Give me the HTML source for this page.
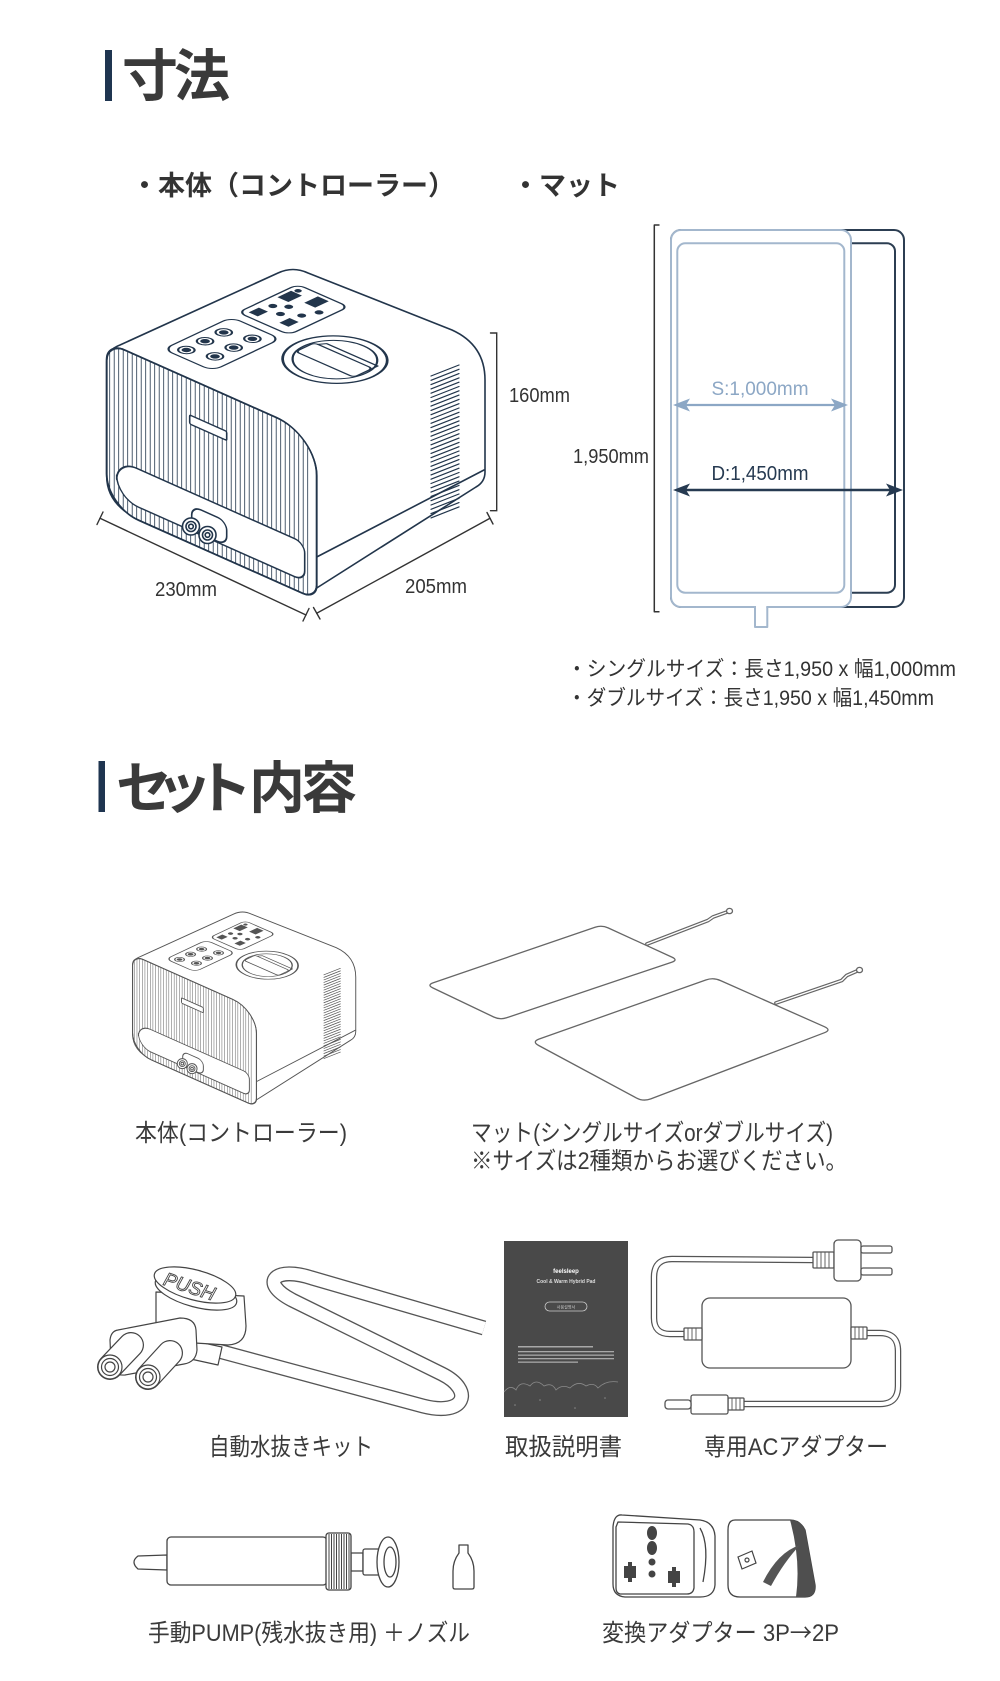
<!DOCTYPE html>
<html><head><meta charset="utf-8">
<style>
html,body{margin:0;padding:0;background:#fff;}
svg{display:block;}
text{font-family:"Liberation Sans","Noto Sans CJK JP","Noto Sans CJK KR",sans-serif;}
</style></head><body>
<svg width="1000" height="1681" viewBox="0 0 1000 1681" xmlns="http://www.w3.org/2000/svg" xmlns:xlink="http://www.w3.org/1999/xlink">
<defs>
  <clipPath id="ffclip"><path d="M18,0 H170 A40,40 0 0 1 210,40 V150 A14,14 0 0 1 196,164 H32 A32,32 0 0 1 0,132 V18 A18,18 0 0 1 18,0 Z"/></clipPath>
  <g id="ctrl" fill="none" stroke="currentColor" stroke-width="1.6" stroke-linejoin="round" stroke-linecap="round">
    <path fill="#fff" d="M106.7,476 V362 Q106.7,350 120,345 L278,273 Q293,266 308,273 L452,330 Q485,345 485,380 V472 Q485,482 476,487 L312,591 L140,520 Q106.7,505 106.7,476 Z"/>
    <path d="M316.7,557 L484,470"/>
    <path stroke-width="1.2" d="M431,376 l28,-11 m-28,15.3 l28,-11 m-28,15.3 l28,-11 m-28,15.3 l28,-11 m-28,15.3 l28,-11 m-28,15.3 l28,-11 m-28,15.3 l28,-11 m-28,15.3 l28,-11 m-28,15.3 l28,-11 m-28,15.3 l28,-11 m-28,15.3 l28,-11 m-28,15.3 l28,-11 m-28,15.3 l28,-11 m-28,15.3 l28,-11 m-28,15.3 l28,-11 m-28,15.3 l28,-11 m-28,15.3 l28,-11 m-28,15.3 l28,-11 m-28,15.3 l28,-11 m-28,15.3 l28,-11 m-28,15.3 l28,-11 m-28,15.3 l28,-11 m-28,15.3 l28,-11 m-28,15.3 l28,-11 m-28,15.3 l28,-11 m-28,15.3 l28,-11 m-28,15.3 l28,-11 m-28,15.3 l28,-11 m-28,15.3 l28,-11 m-28,15.3 l28,-11 m-28,15.3 l28,-11 m-28,15.3 l28,-11 m-28,15.3 l28,-11 m-28,15.3 l28,-11"/>
    <g transform="matrix(1.70,-0.80,1.82,0.80,123,350)" stroke-width="0.9">
      <rect x="12" y="11" width="40" height="27" rx="5" fill="#fff"/>
      <rect x="57" y="10" width="35" height="28" rx="4" fill="#fff"/>
      <circle cx="18" cy="18" r="3.3"/><circle cx="18" cy="18" r="1.5" fill="currentColor"/>
      <circle cx="29" cy="18" r="3.3"/><circle cx="29" cy="18" r="1.5" fill="currentColor"/>
      <circle cx="40" cy="18" r="3.3"/><circle cx="40" cy="18" r="1.5" fill="currentColor"/>
      <circle cx="22" cy="30" r="3.3"/><circle cx="22" cy="30" r="1.5" fill="currentColor"/>
      <circle cx="33" cy="30" r="3.3"/><circle cx="33" cy="30" r="1.5" fill="currentColor"/>
      <circle cx="44" cy="30" r="3.3"/><circle cx="44" cy="30" r="1.5" fill="currentColor"/>
      <g fill="currentColor" stroke="none">
        <rect x="60" y="13" width="6" height="5"/><rect x="78" y="12" width="8" height="6"/>
        <rect x="82" y="23" width="8" height="6"/><rect x="62" y="28" width="6" height="5"/>
        <circle cx="71" cy="16" r="1.8"/><circle cx="75" cy="21" r="1.8"/><circle cx="68" cy="23" r="1.8"/>
        <circle cx="73" cy="30" r="1.8"/><circle cx="80" cy="33" r="1.8"/><circle cx="88" cy="14" r="1.5"/>
      </g>
      <circle cx="54" cy="66" r="21" fill="#fff" stroke-width="1.1"/>
      <circle cx="54" cy="66" r="17"/>
      <rect x="48" y="50" width="11" height="32" rx="2" fill="#fff"/>
      <path d="M59,52 l3,2 v28 l-3,0"/>
    </g>
    <g transform="translate(106.7,342) skewY(24)">
      <path fill="#fff" d="M18,0 H170 A40,40 0 0 1 210,40 V150 A14,14 0 0 1 196,164 H32 A32,32 0 0 1 0,132 V18 A18,18 0 0 1 18,0 Z"/>
      <g clip-path="url(#ffclip)">
        <path stroke-width="0.8" d="M3,0 v164 m4.5,-164 v164 m4.5,-164 v164 m4.5,-164 v164 m4.5,-164 v164 m4.5,-164 v164 m4.5,-164 v164 m4.5,-164 v164 m4.5,-164 v164 m4.5,-164 v164 m4.5,-164 v164 m4.5,-164 v164 m4.5,-164 v164 m4.5,-164 v164 m4.5,-164 v164 m4.5,-164 v164 m4.5,-164 v164 m4.5,-164 v164 m4.5,-164 v164 m4.5,-164 v164 m4.5,-164 v164 m4.5,-164 v164 m4.5,-164 v164 m4.5,-164 v164 m4.5,-164 v164 m4.5,-164 v164 m4.5,-164 v164 m4.5,-164 v164 m4.5,-164 v164 m4.5,-164 v164 m4.5,-164 v164 m4.5,-164 v164 m4.5,-164 v164 m4.5,-164 v164 m4.5,-164 v164 m4.5,-164 v164 m4.5,-164 v164 m4.5,-164 v164 m4.5,-164 v164 m4.5,-164 v164 m4.5,-164 v164 m4.5,-164 v164 m4.5,-164 v164 m4.5,-164 v164 m4.5,-164 v164"/>
      </g>
      <path stroke-width="1.9" d="M18,0 H170 A40,40 0 0 1 210,40 V150 A14,14 0 0 1 196,164 H32 A32,32 0 0 1 0,132 V18 A18,18 0 0 1 18,0 Z"/>
      <path fill="#fff" d="M30,113 H188 A10,10 0 0 1 198,123 V141 A10,10 0 0 1 188,151 H32 A22,22 0 0 1 10,129 V133 A20,20 0 0 1 30,113 Z"/>
      <rect x="83" y="36" width="37" height="9" rx="1.5" fill="#fff"/>
      <rect x="85" y="126" width="35" height="24" rx="9" fill="#fff"/>
    </g>
    <circle cx="191" cy="526.5" r="8.5" fill="#fff"/><circle cx="191" cy="526.5" r="5"/><circle cx="191" cy="526.5" r="2.3"/>
    <circle cx="207.5" cy="535" r="8.5" fill="#fff"/><circle cx="207.5" cy="535" r="5"/><circle cx="207.5" cy="535" r="2.3"/>
  </g>
</defs>

<!-- ========== Heading 1 ========== -->
<rect x="105" y="50" width="7" height="51" fill="#1f3550"/>
<text x="122" y="96" font-size="56" font-weight="700" fill="#3a3a3a" textLength="108">寸法</text>

<text x="131" y="195" font-size="27" font-weight="700" fill="#333">・本体（コントローラー）</text>
<text x="512" y="195" font-size="27" font-weight="700" fill="#333">・マット</text>

<use xlink:href="#ctrl" href="#ctrl" color="#22354b"/>

<g stroke="#333" stroke-width="1.4" fill="none" stroke-linecap="round">
  <path d="M490.5,333 H496.7 V510.7 H490.5"/>
  <path d="M100,518.3 L306,615"/>
  <path d="M97,524.5 L103,512"/>
  <path d="M303,621 L309,608.5"/>
  <path d="M316.7,613.3 L490,518.3"/>
  <path d="M313.5,607.5 L320,619"/>
  <path d="M487,512.5 L493,524"/>
</g>
<text x="509" y="402" font-size="20" fill="#333" textLength="61" lengthAdjust="spacingAndGlyphs">160mm</text>
<text x="155" y="596" font-size="20" fill="#333" textLength="62" lengthAdjust="spacingAndGlyphs">230mm</text>
<text x="405" y="593" font-size="20" fill="#333" textLength="62" lengthAdjust="spacingAndGlyphs">205mm</text>

<!-- mat diagram -->
<g fill="none" stroke-linejoin="round">
  <path d="M659.5,225 H654.3 V611.7 H659.5" stroke="#333" stroke-width="1.5"/>
  <rect x="671" y="230" width="233" height="377" rx="10" stroke="#2c3e52" stroke-width="2"/>
  <rect x="677.3" y="243.3" width="217.7" height="349.4" rx="8" stroke="#2c3e52" stroke-width="2"/>
  <rect x="671" y="230" width="180" height="377" rx="10" fill="#fff" stroke="#a3b7cd" stroke-width="2"/>
  <rect x="677.3" y="243.3" width="167" height="349.4" rx="8" stroke="#a3b7cd" stroke-width="2"/>
  <rect x="756" y="603" width="10.3" height="6" fill="#fff"/>
  <path d="M755,607 V627 H767.3 V607" stroke="#a3b7cd" stroke-width="2"/>
  <line x1="682" y1="405" x2="840" y2="405" stroke="#8ca7c5" stroke-width="2.2"/>
  <line x1="682" y1="490" x2="894" y2="490" stroke="#263a51" stroke-width="2.4"/>
</g>
<path d="M673,405 L690,398.5 L686,405 L690,411.5 Z" fill="#8ca7c5"/>
<path d="M848,405 L831,398.5 L835,405 L831,411.5 Z" fill="#8ca7c5"/>
<path d="M673,490 L690,483.5 L686,490 L690,496.5 Z" fill="#263a51"/>
<path d="M903,490 L886,483.5 L890,490 L886,496.5 Z" fill="#263a51"/>
<text x="711.5" y="395" font-size="19" fill="#8ca7c5" textLength="97" lengthAdjust="spacingAndGlyphs">S:1,000mm</text>
<text x="711.5" y="480" font-size="20" fill="#263a51" textLength="97" lengthAdjust="spacingAndGlyphs">D:1,450mm</text>
<text x="573" y="463" font-size="20" fill="#333" textLength="76" lengthAdjust="spacingAndGlyphs">1,950mm</text>

<text x="567" y="676" font-size="21" fill="#333" textLength="389" lengthAdjust="spacingAndGlyphs">・シングルサイズ：長さ1,950 x 幅1,000mm</text>
<text x="567" y="705" font-size="21" fill="#333" textLength="367" lengthAdjust="spacingAndGlyphs">・ダブルサイズ：長さ1,950 x 幅1,450mm</text>

<!-- ========== Heading 2 ========== -->
<rect x="98.5" y="761" width="6.5" height="51" fill="#1f3550"/>
<text x="116" y="808" font-size="56" font-weight="700" fill="#3a3a3a" textLength="136">セット</text>
<text x="249" y="808" font-size="56" font-weight="700" fill="#3a3a3a" textLength="108">内容</text>

<use xlink:href="#ctrl" href="#ctrl" color="#555" transform="translate(69.6,753) scale(0.59)"/>

<!-- mats -->
<g fill="#fff" stroke="#666" stroke-width="1.3" stroke-linejoin="round">
  <path d="M433.3,982.7 L595.1,927.3 Q601.7,925 608.1,927.9 L671.9,957.1 Q678.3,960 671.7,962.2 L506.6,1017.8 Q500,1020 493.7,1017 L433,988 Q426.7,985 433.3,982.7 Z"/>
  <path d="M539.2,1039 L705.8,980 Q713.3,977.3 720.6,980.6 L824.4,1026.7 Q831.7,1030 824.2,1032.8 L650.8,1098.9 Q643.3,1101.7 636.3,1097.9 L538.7,1045.5 Q531.7,1041.7 539.2,1039 Z"/>
</g>
<g fill="none" stroke-linecap="round" stroke-linejoin="round">
  <path d="M647,944 L708,920.5 L713,917 L727,912" stroke="#666" stroke-width="3.8"/>
  <path d="M647,944 L708,920.5 L713,917 L727,912" stroke="#fff" stroke-width="1.4"/>
  <path d="M776,1003 L841.7,980.5 L846.7,975.5 L857,971" stroke="#666" stroke-width="3.8"/>
  <path d="M776,1003 L841.7,980.5 L846.7,975.5 L857,971" stroke="#fff" stroke-width="1.4"/>
</g>
<ellipse cx="729.5" cy="911" rx="3" ry="2.6" fill="#fff" stroke="#666" stroke-width="1.3"/>
<ellipse cx="859.5" cy="970" rx="3" ry="2.6" fill="#fff" stroke="#666" stroke-width="1.3"/>

<text x="135" y="1141" font-size="24" fill="#3a3a3a" textLength="212" lengthAdjust="spacingAndGlyphs">本体(コントローラー)</text>
<text x="471" y="1141" font-size="24" fill="#3a3a3a" textLength="362" lengthAdjust="spacingAndGlyphs">マット(シングルサイズorダブルサイズ)</text>
<text x="471" y="1169" font-size="24" fill="#3a3a3a" textLength="376" lengthAdjust="spacingAndGlyphs">※サイズは2種類からお選びください。</text>

<!-- drain kit -->
<g fill="none" stroke-linejoin="round">
  <path d="M215,1350 L423,1406 C466,1417 474,1390 442,1374 L292,1300 C258,1282 276,1266 312,1278 L484,1328" stroke="#555" stroke-width="15"/>
  <path d="M215,1350 L423,1406 C466,1417 474,1390 442,1374 L292,1300 C258,1282 276,1266 312,1278 L484,1328" stroke="#fff" stroke-width="12.4"/>
</g>
<g stroke="#444" stroke-width="1.2" fill="#fff" stroke-linejoin="round">
  <path d="M190,1340 L222,1347 L218,1365 L186,1358 Z"/>
  <path d="M156,1292 L156,1325 Q158,1340 178,1342 L228,1345 Q246,1344 246,1326 L244,1296 Z"/>
  <path d="M118,1330 L180,1318 Q195,1318 196,1330 L197,1350 Q196,1362 184,1364 L125,1375 Q112,1376 111,1364 L110,1340 Q111,1331 118,1330 Z"/>
  <line x1="110" y1="1367" x2="131" y2="1345" stroke-width="26" stroke-linecap="round"/>
  <line x1="110" y1="1367" x2="131" y2="1345" stroke="#fff" stroke-width="23.6" stroke-linecap="round"/>
  <circle cx="110" cy="1367" r="12"/><circle cx="110" cy="1367" r="8.5"/><circle cx="110" cy="1367" r="5"/>
  <line x1="148" y1="1377" x2="170" y2="1353" stroke-width="26" stroke-linecap="round"/>
  <line x1="148" y1="1377" x2="170" y2="1353" stroke="#fff" stroke-width="23.6" stroke-linecap="round"/>
  <circle cx="148" cy="1377" r="12"/><circle cx="148" cy="1377" r="8.5"/><circle cx="148" cy="1377" r="5"/>
  <ellipse cx="196" cy="1292" rx="42" ry="15" transform="rotate(15 196 1292)"/>
  <ellipse cx="195" cy="1285" rx="42" ry="15" transform="rotate(15 195 1285)"/>
</g>
<text x="190" y="1293" font-size="19" font-style="italic" text-anchor="middle" transform="rotate(18 190 1285)" fill="#fff" stroke="#444" stroke-width="0.9">PUSH</text>
<text x="209" y="1455" font-size="24" fill="#3a3a3a" textLength="164" lengthAdjust="spacingAndGlyphs">自動水抜きキット</text>

<!-- manual -->
<rect x="504" y="1241" width="124" height="176" fill="#494949"/>
<text x="566" y="1273" font-size="6" font-weight="700" fill="#fff" text-anchor="middle">feelsleep</text>
<text x="566" y="1283" font-size="5" font-weight="700" fill="#ddd" text-anchor="middle">Cool &amp; Warm Hybrid Pad</text>
<rect x="545" y="1302" width="42" height="9" rx="4.5" fill="none" stroke="#ccc" stroke-width="0.8"/>
<text x="566" y="1308.5" font-size="4" fill="#ccc" text-anchor="middle">사용설명서</text>
<g fill="#a8a8a8">
  <rect x="518" y="1346" width="75" height="1.5"/>
  <rect x="518" y="1351" width="96" height="1.3"/>
  <rect x="518" y="1354.5" width="96" height="1.3"/>
  <rect x="518" y="1358" width="96" height="1.3"/>
  <rect x="518" y="1361.5" width="60" height="1.3"/>
</g>
<path d="M504,1392 q6,-8 12,-2 q4,-10 14,-4 q6,-8 14,0 q8,-4 12,4 q6,-6 14,-2 q8,-8 16,-2 q8,-4 12,2 q8,-8 20,-6" fill="none" stroke="#8a8a8a" stroke-width="0.8"/>
<g fill="#888"><circle cx="515" cy="1405" r="0.8"/><circle cx="540" cy="1400" r="0.8"/><circle cx="575" cy="1408" r="0.8"/><circle cx="605" cy="1398" r="0.8"/></g>
<text x="505" y="1455" font-size="24" fill="#3a3a3a" textLength="117" lengthAdjust="spacingAndGlyphs">取扱説明書</text>

<!-- AC adapter -->
<g fill="none" stroke-linejoin="round">
  <path d="M813,1260 L672,1259 Q654,1259 654,1277 L654,1318 Q654,1334 670,1334 L702,1334" stroke="#555" stroke-width="6.5"/>
  <path d="M813,1260 L672,1259 Q654,1259 654,1277 L654,1318 Q654,1334 670,1334 L702,1334" stroke="#fff" stroke-width="4"/>
  <path d="M850,1333 L880,1333 Q898,1333 898,1351 L898,1386 Q898,1404 880,1404 L728,1404" stroke="#555" stroke-width="6.5"/>
  <path d="M850,1333 L880,1333 Q898,1333 898,1351 L898,1386 Q898,1404 880,1404 L728,1404" stroke="#fff" stroke-width="4"/>
</g>
<g fill="#fff" stroke="#555" stroke-width="1.3">
  <rect x="702" y="1298" width="149" height="70" rx="8"/>
  <rect x="813" y="1252" width="21" height="16" rx="1"/>
  <rect x="834" y="1240" width="27" height="41" rx="4"/>
  <rect x="861" y="1246" width="31" height="7" rx="2"/>
  <rect x="861" y="1268" width="31" height="7" rx="2"/>
  <rect x="684" y="1328" width="18" height="12" rx="1"/>
  <rect x="851" y="1327" width="16" height="12" rx="1"/>
  <rect x="728" y="1398" width="16" height="12" rx="1"/>
  <rect x="691" y="1395" width="37" height="19" rx="2"/>
  <rect x="665" y="1400" width="26" height="9" rx="3"/>
</g>
<g stroke="#555" stroke-width="0.9">
  <path d="M817,1252 v16 M821,1252 v16 M825,1252 v16 M829,1252 v16"/>
  <path d="M688,1328 v12 M692,1328 v12 M696,1328 v12"/>
  <path d="M855,1327 v12 M859,1327 v12 M863,1327 v12"/>
  <path d="M732,1398 v12 M736,1398 v12 M740,1398 v12"/>
</g>
<text x="704" y="1455" font-size="24" fill="#3a3a3a" textLength="184" lengthAdjust="spacingAndGlyphs">専用ACアダプター</text>

<!-- pump -->
<g fill="#fff" stroke="#444" stroke-width="1.3" stroke-linejoin="round">
  <path d="M167,1555 L138,1556 Q130,1562 138,1569 L167,1570 Z"/>
  <rect x="167" y="1537" width="160" height="48" rx="4"/>
  <rect x="351" y="1553" width="12" height="18"/>
  <rect x="363" y="1549" width="18" height="26" rx="2"/>
  <ellipse cx="388" cy="1562" rx="11" ry="25"/>
  <ellipse cx="390" cy="1562" rx="6" ry="15"/>
  <rect x="326" y="1533" width="25" height="57" rx="3"/>
  <path d="M459,1545 h9 v8 q6,8 6,18 v16 q0,2 -2,2 h-17 q-2,0 -2,-2 v-16 q0,-10 6,-18 z"/>
</g>
<path stroke="#444" stroke-width="1" d="M329,1534 v55 M331.5,1534 v55 M334,1534 v55 M336.5,1534 v55 M339,1534 v55 M341.5,1534 v55 M344,1534 v55 M346.5,1534 v55 M349,1534 v55"/>
<text x="148" y="1641" font-size="24" fill="#3a3a3a" textLength="322" lengthAdjust="spacingAndGlyphs">手動PUMP(残水抜き用) ＋ノズル</text>

<!-- plug adapters -->
<g stroke="#444" stroke-width="1.3" fill="#fff" stroke-linejoin="round">
  <path d="M622,1515 L700,1520 Q714,1522 715,1536 L715,1585 Q714,1597 700,1597 L625,1597 Q613,1596 613,1584 L613,1527 Q614,1514 622,1515 Z"/>
  <path d="M618,1522 L688,1524 Q694,1525 694,1532 L694,1588 Q693,1594 687,1594 L620,1594 Q616,1593 616,1588 L616,1527 Z"/>
  <path d="M700,1528 Q710,1545 703,1582" fill="none"/>
  <path d="M735,1520 L790,1520 Q800,1520 805,1530 L815,1585 Q816,1597 805,1597 L740,1597 Q728,1597 728,1585 L728,1530 Q728,1520 735,1520 Z"/>
</g>
<g fill="#444">
  <ellipse cx="652" cy="1533" rx="5" ry="7"/>
  <ellipse cx="652" cy="1548" rx="5" ry="7"/>
  <circle cx="652" cy="1562" r="3.5"/>
  <circle cx="652" cy="1574" r="3.5"/>
  <path d="M624,1566 h12 v12 h-12 z M628,1562 h4 v20 h-4 z"/>
  <path d="M668,1571 h12 v12 h-12 z M672,1567 h4 v20 h-4 z"/>
  <path d="M790,1520 Q800,1520 805,1530 L815,1585 Q816,1597 805,1597 L796,1597 Q801,1560 790,1520 Z" fill="#4f4f4f"/>
  <path d="M763,1582 Q778,1552 800,1545 Q784,1562 771,1586 Z" fill="#555"/>
</g>
<g fill="#fff" stroke="#444" stroke-width="1.2">
  <path d="M738,1557 L752,1551 L756,1563 L742,1569 Z"/>
  <circle cx="747" cy="1560" r="2"/>
</g>
<text x="602" y="1641" font-size="24" fill="#3a3a3a" textLength="237" lengthAdjust="spacingAndGlyphs">変換アダプター 3P<tspan font-family="'Noto Sans CJK JP',sans-serif">→</tspan>2P</text>
</svg>
</body></html>
